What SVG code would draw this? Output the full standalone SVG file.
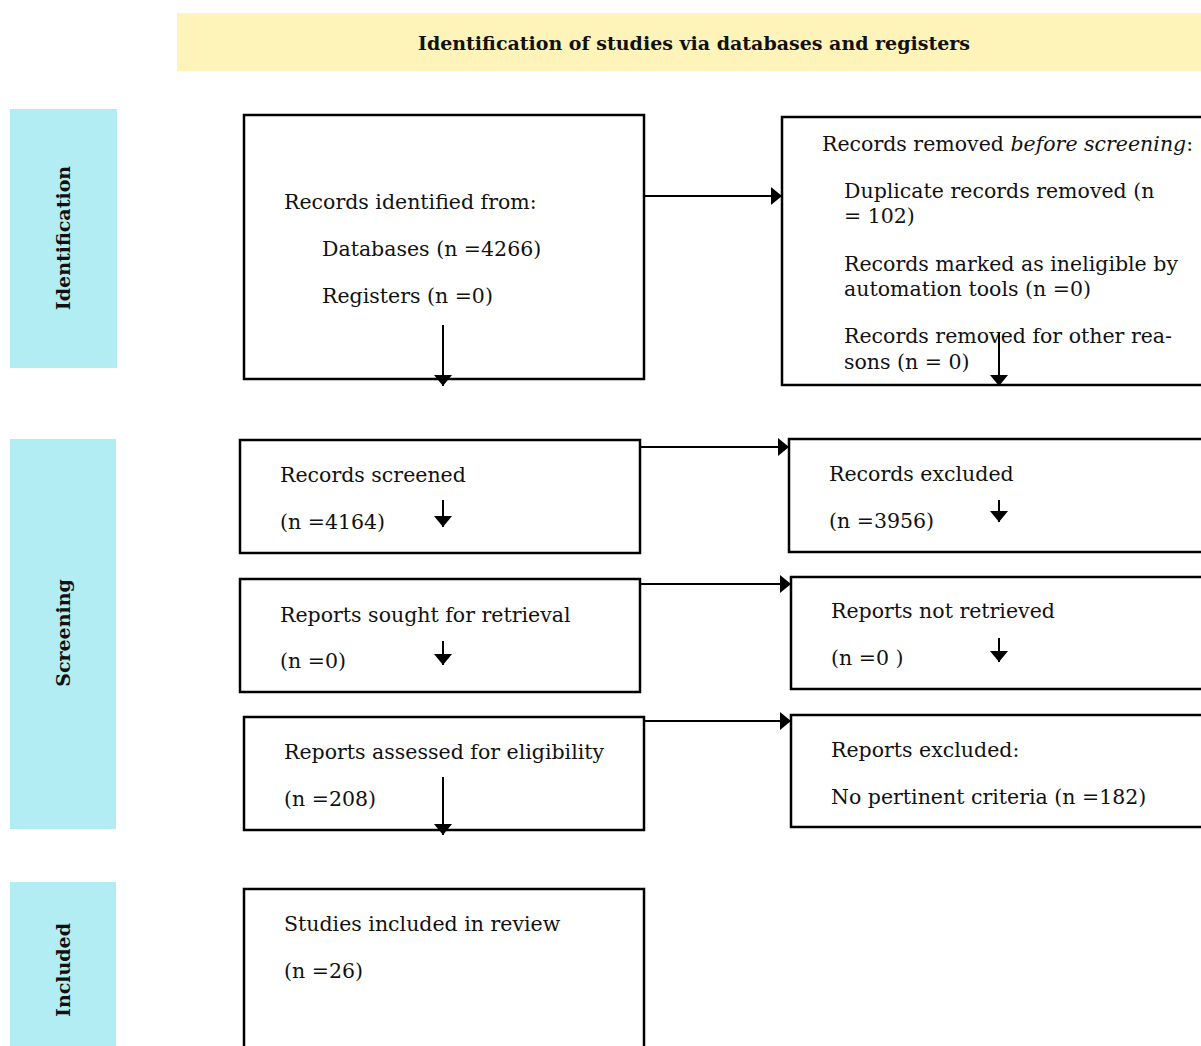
<svg xmlns="http://www.w3.org/2000/svg" width="1201" height="1046" viewBox="0 0 1201 1046">
<style>
.box{fill:#fff;stroke:#000;stroke-width:2.5}
.t{font-family:"DejaVu Serif","Liberation Serif",serif;font-size:20.5px;fill:#111}
.side{fill:#b1edf3}
.st{font-family:"DejaVu Serif","Liberation Serif",serif;font-size:19px;font-weight:bold;fill:#111}
.ht{font-family:"DejaVu Serif","Liberation Serif",serif;font-size:19px;font-weight:bold;fill:#111}
.c{stroke:#000;stroke-width:2;fill:none}
</style>
<defs>
<marker id="ah" markerUnits="userSpaceOnUse" markerWidth="12" markerHeight="19" refX="11" refY="9" orient="auto" viewBox="0 0 12 19">
<path d="M0,0 L11,9 L0,18 z" fill="#000"/>
</marker>
</defs>
<rect width="1201" height="1046" fill="#fff"/>
<g id="header">
<rect x="177" y="13" width="1024" height="58" fill="#fef4b9"/>
<text class="ht" x="694" y="50" text-anchor="middle">Identification of studies via databases and registers</text>
</g>
<g id="side-identification">
<rect class="side" x="10" y="109" width="107" height="259"/>
<text class="st" transform="translate(70,238) rotate(-90)" text-anchor="middle">Identification</text>
</g>
<g id="side-screening">
<rect class="side" x="10" y="439" width="106" height="390"/>
<text class="st" transform="translate(70,633) rotate(-90)" text-anchor="middle">Screening</text>
</g>
<g id="side-included">
<rect class="side" x="10" y="882" width="106" height="170"/>
<text class="st" transform="translate(70,970) rotate(-90)" text-anchor="middle">Included</text>
</g>
<g id="n-identified">
<rect class="box" x="244" y="115" width="400" height="264"/>
<text class="t" x="284" y="209">Records identified from:</text>
<text class="t" x="322" y="256">Databases (n =4266)</text>
<text class="t" x="322" y="303">Registers (n =0)</text>
</g>
<g id="n-removed">
<rect class="box" x="782" y="117" width="425" height="268"/>
<text class="t" x="822" y="151">Records removed <tspan font-style="italic">before screening</tspan>:</text>
<text class="t" x="844" y="198">Duplicate records removed (n</text>
<text class="t" x="844" y="223">= 102)</text>
<text class="t" x="844" y="271">Records marked as ineligible by</text>
<text class="t" x="844" y="296">automation tools (n =0)</text>
<text class="t" x="844" y="343">Records removed for other rea-</text>
<text class="t" x="844" y="369">sons (n = 0)</text>
</g>
<g id="n-screened">
<rect class="box" x="240" y="440" width="400" height="113"/>
<text class="t" x="280" y="482">Records screened</text>
<text class="t" x="280" y="529">(n =4164)</text>
</g>
<g id="n-excluded">
<rect class="box" x="789" y="439" width="418" height="113"/>
<text class="t" x="829" y="481">Records excluded</text>
<text class="t" x="829" y="528">(n =3956)</text>
</g>
<g id="n-sought">
<rect class="box" x="240" y="579" width="400" height="113"/>
<text class="t" x="280" y="622">Reports sought for retrieval</text>
<text class="t" x="280" y="668">(n =0)</text>
</g>
<g id="n-notretrieved">
<rect class="box" x="791" y="577" width="416" height="112"/>
<text class="t" x="831" y="618">Reports not retrieved</text>
<text class="t" x="831" y="665">(n =0 )</text>
</g>
<g id="n-assessed">
<rect class="box" x="244" y="717" width="400" height="113"/>
<text class="t" x="284" y="759">Reports assessed for eligibility</text>
<text class="t" x="284" y="806">(n =208)</text>
</g>
<g id="n-reportsexcluded">
<rect class="box" x="791" y="715" width="416" height="112"/>
<text class="t" x="831" y="757">Reports excluded:</text>
<text class="t" x="831" y="804">No pertinent criteria (n =182)</text>
</g>
<g id="n-included">
<rect class="box" x="244" y="889" width="400" height="170"/>
<text class="t" x="284" y="931">Studies included in review</text>
<text class="t" x="284" y="978">(n =26)</text>
</g>
<g id="connectors">
<line class="c" x1="644" y1="196" x2="782" y2="196" marker-end="url(#ah)"/>
<line class="c" x1="443" y1="325" x2="443" y2="386" marker-end="url(#ah)"/>
<line class="c" x1="999" y1="333" x2="999" y2="386" marker-end="url(#ah)"/>
<line class="c" x1="640" y1="447" x2="789" y2="447" marker-end="url(#ah)"/>
<line class="c" x1="443" y1="500" x2="443" y2="527" marker-end="url(#ah)"/>
<line class="c" x1="999" y1="500" x2="999" y2="522" marker-end="url(#ah)"/>
<line class="c" x1="640" y1="584" x2="791" y2="584" marker-end="url(#ah)"/>
<line class="c" x1="443" y1="641" x2="443" y2="665" marker-end="url(#ah)"/>
<line class="c" x1="999" y1="638" x2="999" y2="662" marker-end="url(#ah)"/>
<line class="c" x1="644" y1="721" x2="791" y2="721" marker-end="url(#ah)"/>
<line class="c" x1="443" y1="777" x2="443" y2="835" marker-end="url(#ah)"/>
</g>
</svg>
